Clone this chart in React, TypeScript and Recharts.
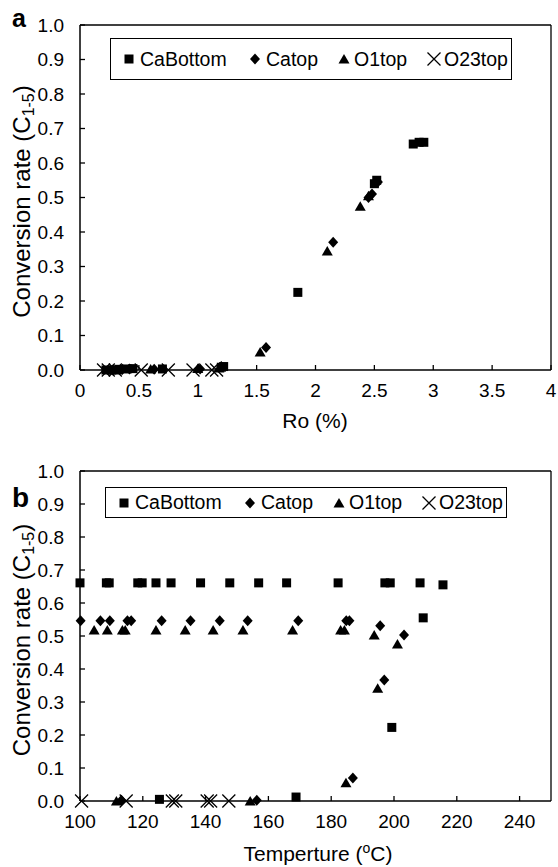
import React from 'react';
import { ScatterChart, Scatter, XAxis, YAxis, ReferenceLine, Legend, Label } from 'recharts';

const FONT = '"Liberation Sans", Arial, Helvetica, sans-serif';

// panel a: Ro (%) vs conversion rate
const roCaBottom: [number, number][] = [
  [0.22, 0], [0.27, 0], [0.33, 0.002], [0.4, 0.003], [0.45, 0.004], [0.7, 0.003],
  [1.2, 0.008], [1.22, 0.01], [1.85, 0.225], [2.5, 0.54], [2.52, 0.55],
  [2.83, 0.655], [2.88, 0.66], [2.92, 0.66],
];
const roCatop: [number, number][] = [
  [0.28, 0], [0.36, 0.002], [0.42, 0.003], [0.63, 0.002], [1.02, 0.003], [1.2, 0.01],
  [1.58, 0.065], [2.15, 0.37], [2.45, 0.5], [2.48, 0.51], [2.53, 0.545],
];
const roO1top: [number, number][] = [
  [0.32, 0], [0.6, 0.003], [1.0, 0.004], [1.18, 0.006], [1.53, 0.052],
  [2.1, 0.345], [2.38, 0.475], [2.45, 0.505],
];
const roO23top: [number, number][] = [
  [0.2, 0], [0.24, 0], [0.3, 0], [0.52, 0], [0.75, 0], [0.96, 0], [1.12, 0], [1.16, 0],
];

// panel b: temperature vs conversion rate
const tCaBottom: [number, number][] = [
  [100, 0.661], [108.4, 0.661], [109.3, 0.661], [118.4, 0.661], [119.8, 0.661], [124.2, 0.661],
  [129, 0.661], [138.4, 0.661], [147.7, 0.661], [156.9, 0.661], [165.8, 0.661], [182.2, 0.661],
  [197.1, 0.661], [198.8, 0.661], [208.3, 0.661], [215.6, 0.655], [209.3, 0.555],
  [199.3, 0.223], [125.3, 0.005], [168.8, 0.012],
];
const tCatop: [number, number][] = [
  [100.2, 0.546], [106.5, 0.546], [109.5, 0.546], [115.1, 0.546], [116.3, 0.546], [126, 0.546],
  [135.2, 0.546], [144.5, 0.546], [153.4, 0.546], [169.5, 0.546], [184.8, 0.546], [185.8, 0.546],
  [195.6, 0.531], [203.2, 0.503], [196.9, 0.367], [186.9, 0.07], [113.2, 0.002], [156.3, 0.002],
];
const tO1top: [number, number][] = [
  [104.5, 0.518], [108.7, 0.518], [113.5, 0.518], [114.4, 0.518], [124.2, 0.518], [133.5, 0.518],
  [142.4, 0.518], [151.9, 0.518], [167.7, 0.518], [183, 0.518], [184.2, 0.518], [193.7, 0.503],
  [201.1, 0.476], [194.8, 0.342], [184.7, 0.055], [111.6, 0], [154.2, 0],
];
const tO23top: [number, number][] = [
  [100.5, 0], [114.7, 0], [129.4, 0], [130.5, 0], [140.5, 0], [141.6, 0], [147.4, 0],
];

const seriesNames = ['CaBottom', 'Catop', 'O1top', 'O23top'];
const yTicks = [0, 0.1, 0.2, 0.3, 0.4, 0.5, 0.6, 0.7, 0.8, 0.9, 1.0];
const roTicks = [0, 0.5, 1, 1.5, 2, 2.5, 3, 3.5, 4];
const tTicks = [100, 120, 140, 160, 180, 200, 220, 240];

const pts = (arr: [number, number][]) => arr.map(([x, y]) => ({ x, y }));

// marker shapes
const Square = (p: any) => <rect x={p.cx - 4.5} y={p.cy - 4.5} width={9} height={9} fill="#000" />;
const Diamond = (p: any) => (
  <polygon points={`${p.cx},${p.cy - 5.5} ${p.cx + 5},${p.cy} ${p.cx},${p.cy + 5.5} ${p.cx - 5},${p.cy}`} fill="#000" />
);
const Triangle = (p: any) => (
  <polygon points={`${p.cx},${p.cy - 5} ${p.cx + 5.5},${p.cy + 4.5} ${p.cx - 5.5},${p.cy + 4.5}`} fill="#000" />
);
const Cross = (p: any) => (
  <path d={`M${p.cx - 6.5},${p.cy - 6.5}L${p.cx + 6.5},${p.cy + 6.5}M${p.cx - 6.5},${p.cy + 6.5}L${p.cx + 6.5},${p.cy - 6.5}`}
    stroke="#000" strokeWidth={1.3} fill="none" />
);
const shapes = [Square, Diamond, Triangle, Cross];

const X_MARGIN = 13;
const Y_MARGIN = 16;
const AXIS_LINE = { stroke: '#000', strokeWidth: 1.5 };

const XTick = (p: any) => {
  const axisY = p.y - X_MARGIN;
  return (
    <g>
      <line x1={p.x} x2={p.x} y1={axisY} y2={axisY - 5} stroke="#000" strokeWidth={1.3} />
      <text x={p.x} y={p.y} dy="0.75em" textAnchor="middle" fontFamily={FONT} fontSize={19} fill="#000">
        {p.payload.value}
      </text>
    </g>
  );
};

const YTick = (p: any) => {
  const axisX = p.x + Y_MARGIN;
  return (
    <g>
      <line x1={axisX} x2={axisX + 5} y1={p.y} y2={p.y} stroke="#000" strokeWidth={1.3} />
      <text x={p.x} y={p.y} dy="0.36em" textAnchor="end" fontFamily={FONT} fontSize={19} fill="#000">
        {Number(p.payload.value).toFixed(1)}
      </text>
    </g>
  );
};

const iconX = [18, 144, 233, 323];
const textX = [29, 155, 243, 333];

const LegendBox = ({ height }: { height: number }) => (
  <div style={{ position: 'relative', width: '100%', height, border: '1.5px solid #000', boxSizing: 'border-box',
    fontFamily: FONT, fontSize: 19.5, color: '#000', background: '#fff' }}>
    {seriesNames.map((n, i) => {
      const Shape = shapes[i];
      return (
        <React.Fragment key={n}>
          <svg width={16} height={16} style={{ position: 'absolute', left: iconX[i] - 8, top: height / 2 - 9 }}>
            <Shape cx={8} cy={8} />
          </svg>
          <span style={{ position: 'absolute', left: textX[i], top: height / 2 - 12.5, lineHeight: '22px' }}>{n}</span>
        </React.Fragment>
      );
    })}
  </div>
);

const YTitle = ({ cy, letter, letterY, letterSize }: { cy: number; letter: string; letterY: number; letterSize: number }) => (
  <g>
    <text x={22} y={cy} transform={`rotate(-90 22 ${cy})`} textAnchor="middle" dy="0.35em"
      fontFamily={FONT} fontSize={24} fill="#000">
      Conversion rate (C<tspan fontSize={16} dy={4}>1-5</tspan><tspan dy={-4}>)</tspan>
    </text>
    <text x={12} y={letterY} fontFamily={FONT} fontWeight="bold" fontSize={letterSize} fill="#000">{letter}</text>
  </g>
);

function Panel({ data, xDomain, xTicks, xTitle, height, top, xAxisH, legendTop, legendLeft, legendH, letter, letterY, letterSize, titleY }: any) {
  return (
    <ScatterChart width={558} height={height} margin={{ top, right: 7, left: 10, bottom: 0 }}>
      <XAxis type="number" dataKey="x" domain={xDomain} ticks={xTicks} interval={0} height={xAxisH}
        axisLine={AXIS_LINE} tickLine={false} tickSize={0} tickMargin={X_MARGIN} tick={<XTick />}>
        <Label content={() => xTitle(titleY)} />
      </XAxis>
      <YAxis type="number" dataKey="y" domain={[0, 1]} ticks={yTicks} interval={0} width={70}
        axisLine={AXIS_LINE} tickLine={false} tickSize={0} tickMargin={Y_MARGIN} tick={<YTick />}>
        <Label content={(lp: any) => (
          <YTitle cy={lp.viewBox.y + lp.viewBox.height / 2 + 4} letter={letter} letterY={letterY} letterSize={letterSize} />
        )} />
      </YAxis>
      <ReferenceLine y={1} stroke="#000" strokeWidth={1.3} />
      <ReferenceLine x={xDomain[1]} stroke="#000" strokeWidth={1.3} />
      <Legend layout="horizontal" verticalAlign="middle" align="center"
        wrapperStyle={{ left: legendLeft, top: legendTop, width: 402, height: legendH }}
        content={() => <LegendBox height={legendH} />} />
      {data.map((d: [number, number][], i: number) => (
        <Scatter key={seriesNames[i]} name={seriesNames[i]} data={pts(d)} shape={shapes[i]} isAnimationActive={false} />
      ))}
    </ScatterChart>
  );
}

export default function App() {
  return (
    <div style={{ position: 'absolute', left: 0, top: 0, width: 558, height: 867, background: '#fff' }}>
      <div style={{ position: 'absolute', left: 0, top: 0 }}>
        <Panel data={[roCaBottom, roCatop, roO1top, roO23top]} xDomain={[0, 4]} xTicks={roTicks}
          height={440} top={25} xAxisH={70} legendTop={38} legendLeft={110} legendH={42}
          letter="a" letterY={27} letterSize={25} titleY={428}
          xTitle={(ty: number) => (
            <text x={315} y={ty} textAnchor="middle" fontFamily={FONT} fontSize={21} fill="#000">Ro (%)</text>
          )} />
      </div>
      <div style={{ position: 'absolute', left: 0, top: 440 }}>
        <Panel data={[tCaBottom, tCatop, tO1top, tO23top]} xDomain={[100, 250]} xTicks={tTicks}
          height={427} top={31} xAxisH={66} legendTop={47} legendLeft={105} legendH={31}
          letter="b" letterY={67} letterSize={28} titleY={421}
          xTitle={(ty: number) => (
            <text x={318} y={ty} textAnchor="middle" fontFamily={FONT} fontSize={21} fill="#000">
              Temperture (<tspan fontSize={14} dy={-8}>o</tspan><tspan dy={8}>C)</tspan>
            </text>
          )} />
      </div>
    </div>
  );
}
